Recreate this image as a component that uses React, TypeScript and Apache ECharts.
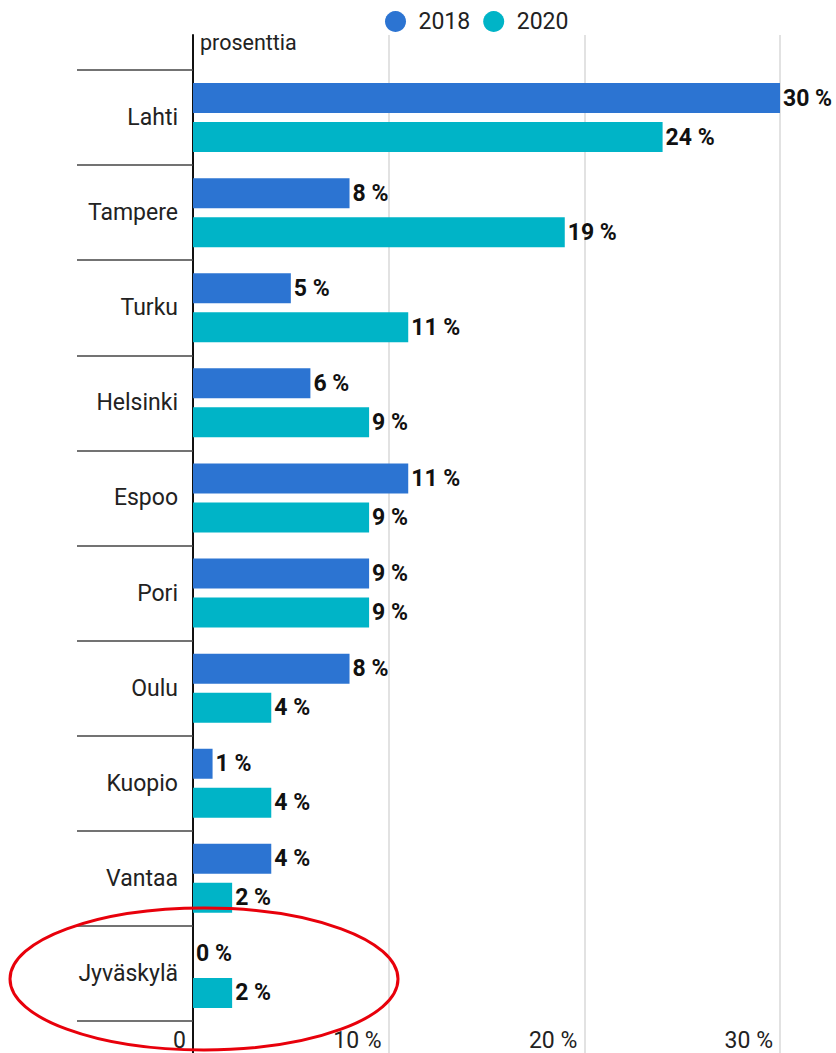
import React, { useEffect, useRef } from "react";
import * as echarts from "echarts";

const categories = ["Lahti", "Tampere", "Turku", "Helsinki", "Espoo", "Pori", "Oulu", "Kuopio", "Vantaa", "Jyväskylä"];
const values2018 = [30, 8, 5, 6, 11, 9, 8, 1, 4, 0];
const values2020 = [24, 19, 11, 9, 9, 9, 4, 4, 2, 2];
const seriesNames = ["2018", "2020"];
const xTicks = [0, 10, 20, 30];

const FONT = "Roboto";

export default function App() {
  const ref = useRef<HTMLDivElement>(null);
  useEffect(() => {
    if (!ref.current) return;
    const chart = echarts.init(ref.current, null, { renderer: "svg" });
    const labelCfg = {
      show: true,
      position: "right",
      distance: 3,
      fontFamily: FONT,
      fontSize: 23,
      fontWeight: "bold",
      color: "#111",
      formatter: (p: any) => `${p.value} %`,
    };
    chart.setOption({
      animation: false,
      textStyle: { fontFamily: FONT },
      legend: {
        top: 5,
        left: 380,
        icon: "circle",
        itemWidth: 22,
        itemHeight: 21,
        itemGap: 13,
        textStyle: { fontFamily: FONT, fontSize: 23, color: "#222", padding: [0, 0, 0, 7] },
        data: seriesNames,
      },
      grid: [
        { left: 193, right: 56, top: 70, bottom: 32, containLabel: false },
        { left: 193, right: 56, top: 35, bottom: 0, containLabel: false },
      ],
      xAxis: [
        {
          type: "value",
          gridIndex: 0,
          min: xTicks[0],
          max: xTicks[xTicks.length - 1],
          interval: 10,
          axisLine: { show: false },
          axisTick: { show: false },
          splitLine: { show: false },
          axisLabel: {
            fontFamily: FONT,
            fontSize: 23,
            lineHeight: 22,
            color: "#222",
            align: "right",
            margin: 8,
            padding: [0, 7, 0, 0],
            formatter: (v: number) => (v === 0 ? "0" : `${v} %`),
          },
        },
        {
          type: "value",
          gridIndex: 1,
          min: xTicks[0],
          max: xTicks[xTicks.length - 1],
          interval: 10,
          axisLine: { show: false },
          axisTick: { show: false },
          axisLabel: { show: false },
          splitLine: { show: true, lineStyle: { color: "#d8d8d8", width: 1.5 } },
        },
      ],
      yAxis: [
        {
          type: "category",
          gridIndex: 0,
          data: categories,
          inverse: true,
          axisLine: { show: false },
          axisTick: { show: true, length: 116, lineStyle: { color: "#444", width: 1.5 } },
          axisLabel: { fontFamily: FONT, fontSize: 23, color: "#222", margin: 15 },
          splitLine: { show: false },
        },
        {
          type: "value",
          gridIndex: 1,
          min: 0,
          max: 1,
          axisLine: { show: true, lineStyle: { color: "#111", width: 2 } },
          axisTick: { show: false },
          axisLabel: { show: false },
          splitLine: { show: false },
        },
      ],
      series: [
        {
          name: seriesNames[0],
          type: "bar",
          xAxisIndex: 0,
          yAxisIndex: 0,
          data: values2018,
          barWidth: 30,
          barGap: "30%",
          itemStyle: { color: "#2c74d2" },
          label: labelCfg,
        },
        {
          name: seriesNames[1],
          type: "bar",
          xAxisIndex: 0,
          yAxisIndex: 0,
          data: values2020,
          barWidth: 30,
          barGap: "30%",
          itemStyle: { color: "#00b4c7" },
          label: labelCfg,
        },
      ],
      graphic: [
        {
          type: "text",
          left: 200,
          top: 31,
          style: { text: "prosenttia", fontFamily: FONT, fontSize: 21.5, fill: "#222" },
        },
        {
          type: "ellipse",
          shape: { cx: 204, cy: 979, rx: 194, ry: 71 },
          style: { fill: "none", stroke: "#e8000b", lineWidth: 3 },
          z: 100,
        },
      ],
    });
    return () => chart.dispose();
  }, []);
  return (
    <div
      ref={ref}
      style={{ position: "absolute", left: 0, top: 0, width: 836, height: 1053 }}
    />
  );
}
